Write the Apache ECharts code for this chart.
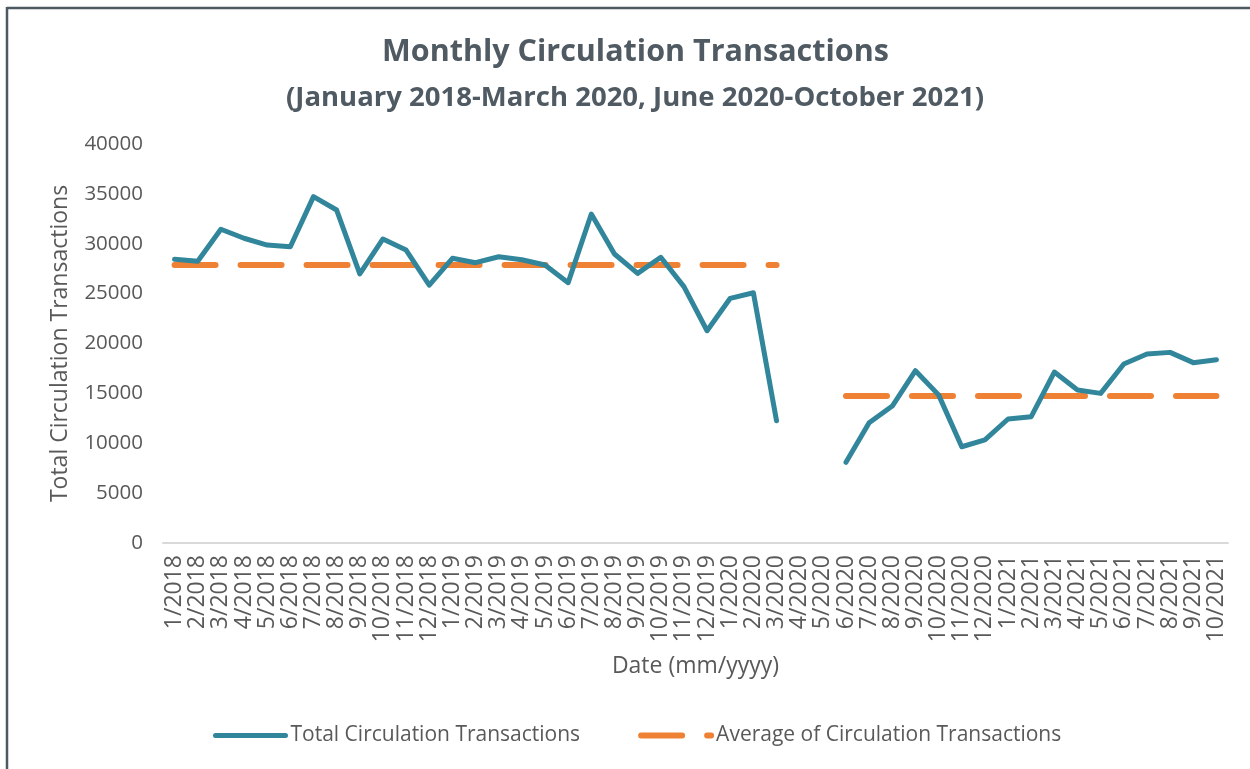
<!DOCTYPE html>
<html>
<head>
<meta charset="utf-8">
<title>Monthly Circulation Transactions</title>
<script src="https://cdn.jsdelivr.net/npm/echarts@6/dist/echarts.min.js"></script>
<style>
  html, body { margin: 0; padding: 0; background: #fff; }
  #chart { width: 1250px; height: 769px; }
</style>
</head>
<body>
<div id="chart"></div>
<script>
// 月份标签
const months = [
  '1/2018', '2/2018', '3/2018', '4/2018', '5/2018', '6/2018', '7/2018', '8/2018', '9/2018', '10/2018', '11/2018', '12/2018',
  '1/2019', '2/2019', '3/2019', '4/2019', '5/2019', '6/2019', '7/2019', '8/2019', '9/2019', '10/2019', '11/2019', '12/2019',
  '1/2020', '2/2020', '3/2020', '4/2020', '5/2020', '6/2020', '7/2020', '8/2020', '9/2020', '10/2020', '11/2020', '12/2020',
  '1/2021', '2/2021', '3/2021', '4/2021', '5/2021', '6/2021', '7/2021', '8/2021', '9/2021', '10/2021'
];

// 每月流通量（4/2020、5/2020 无数据）
const totalTransactions = [
  28450, 28250, 31450, 30550, 29870, 29700, 34720, 33380, 26970, 30480, 29370, 25860,
  28540, 28100, 28700, 28400, 27870, 26100, 32980, 28970, 27030, 28640, 25700, 21280,
  24530, 25090, 12260, null, null, 8090, 12060, 13730, 17270, 14850, 9650, 10330,
  12430, 12660, 17140, 15340, 15000, 17940, 18950, 19110, 18080, 18380
];

// 两个时段的平均值
const averageTransactions = [
  27870, 27870, 27870, 27870, 27870, 27870, 27870, 27870, 27870, 27870, 27870, 27870,
  27870, 27870, 27870, 27870, 27870, 27870, 27870, 27870, 27870, 27870, 27870, 27870,
  27870, 27870, 27870, null, null, 14740, 14740, 14740, 14740, 14740, 14740, 14740,
  14740, 14740, 14740, 14740, 14740, 14740, 14740, 14740, 14740, 14740
];

const yTicks = { min: 0, max: 40000, interval: 5000 };

const textColor = '#595959';
const titleColor = '#4F5A62';
const tealColor = '#31869B';
const orangeColor = '#EE8133';
const font = '"Open Sans", sans-serif';

const chart = echarts.init(document.getElementById('chart'));

chart.setOption({
  backgroundColor: '#fff',
  animation: false,
  title: [
    {
      text: 'Monthly Circulation Transactions',
      left: 377,
      top: 32,
      textStyle: { fontFamily: font, fontSize: 30.5, fontWeight: 'bold', color: titleColor }
    },
    {
      text: '(January 2018-March 2020, June 2020-October 2021)',
      left: 281,
      top: 79,
      textStyle: { fontFamily: font, fontSize: 27.5, fontWeight: 'bold', color: titleColor }
    }
  ],
  graphic: [
    { type: 'line', shape: { x1: 7, y1: 8, x2: 1250, y2: 8 }, style: { stroke: '#4D5A61', lineWidth: 2.5 } },
    { type: 'line', shape: { x1: 7, y1: 7, x2: 7, y2: 769 }, style: { stroke: '#4D5A61', lineWidth: 2.5 } }
  ],
  legend: {
    bottom: 18,
    left: 208,
    itemWidth: 70,
    itemHeight: 10,
    itemGap: 58,
    textStyle: { fontFamily: font, fontSize: 21, color: textColor },
    itemStyle: { opacity: 0 },
    data: [
      {
        name: 'Total Circulation Transactions',
        lineStyle: { width: 5, cap: 'round' }
      },
      {
        name: 'Average of Circulation Transactions',
        lineStyle: { width: 6, cap: 'round', type: [41, 25] }
      }
    ]
  },
  grid: { left: 163, right: 22, top: 144, bottom: 226, containLabel: false },
  xAxis: {
    type: 'category',
    data: months,
    boundaryGap: true,
    name: 'Date (mm/yyyy)',
    nameLocation: 'middle',
    nameGap: 112,
    nameTextStyle: { fontFamily: font, fontSize: 23, color: textColor },
    axisLine: { lineStyle: { color: '#D9D9D9', width: 2 } },
    axisTick: { show: false },
    axisLabel: { interval: 0, rotate: 90, margin: 12, fontFamily: font, fontSize: 23, color: textColor }
  },
  yAxis: {
    type: 'value',
    min: yTicks.min,
    max: yTicks.max,
    interval: yTicks.interval,
    name: 'Total Circulation Transactions',
    nameLocation: 'middle',
    nameGap: 91,
    nameTextStyle: { fontFamily: font, fontSize: 23, color: textColor },
    axisLine: { show: false },
    axisTick: { show: false },
    splitLine: { show: false },
    axisLabel: {
      margin: 20,
      fontFamily: font,
      fontSize: 20.5,
      color: textColor,
      formatter: (v) => String(v)
    }
  },
  series: [
    {
      name: 'Total Circulation Transactions',
      type: 'line',
      data: totalTransactions,
      symbol: 'none',
      connectNulls: false,
      itemStyle: { color: tealColor },
      lineStyle: { color: tealColor, width: 5, cap: 'round', join: 'round' },
      z: 3
    },
    {
      name: 'Average of Circulation Transactions',
      type: 'line',
      data: averageTransactions,
      symbol: 'none',
      connectNulls: false,
      itemStyle: { color: orangeColor },
      lineStyle: { color: orangeColor, width: 6, type: [41, 25], cap: 'round' },
      z: 2
    }
  ]
});

window.addEventListener('resize', () => chart.resize());
</script>
</body>
</html>
